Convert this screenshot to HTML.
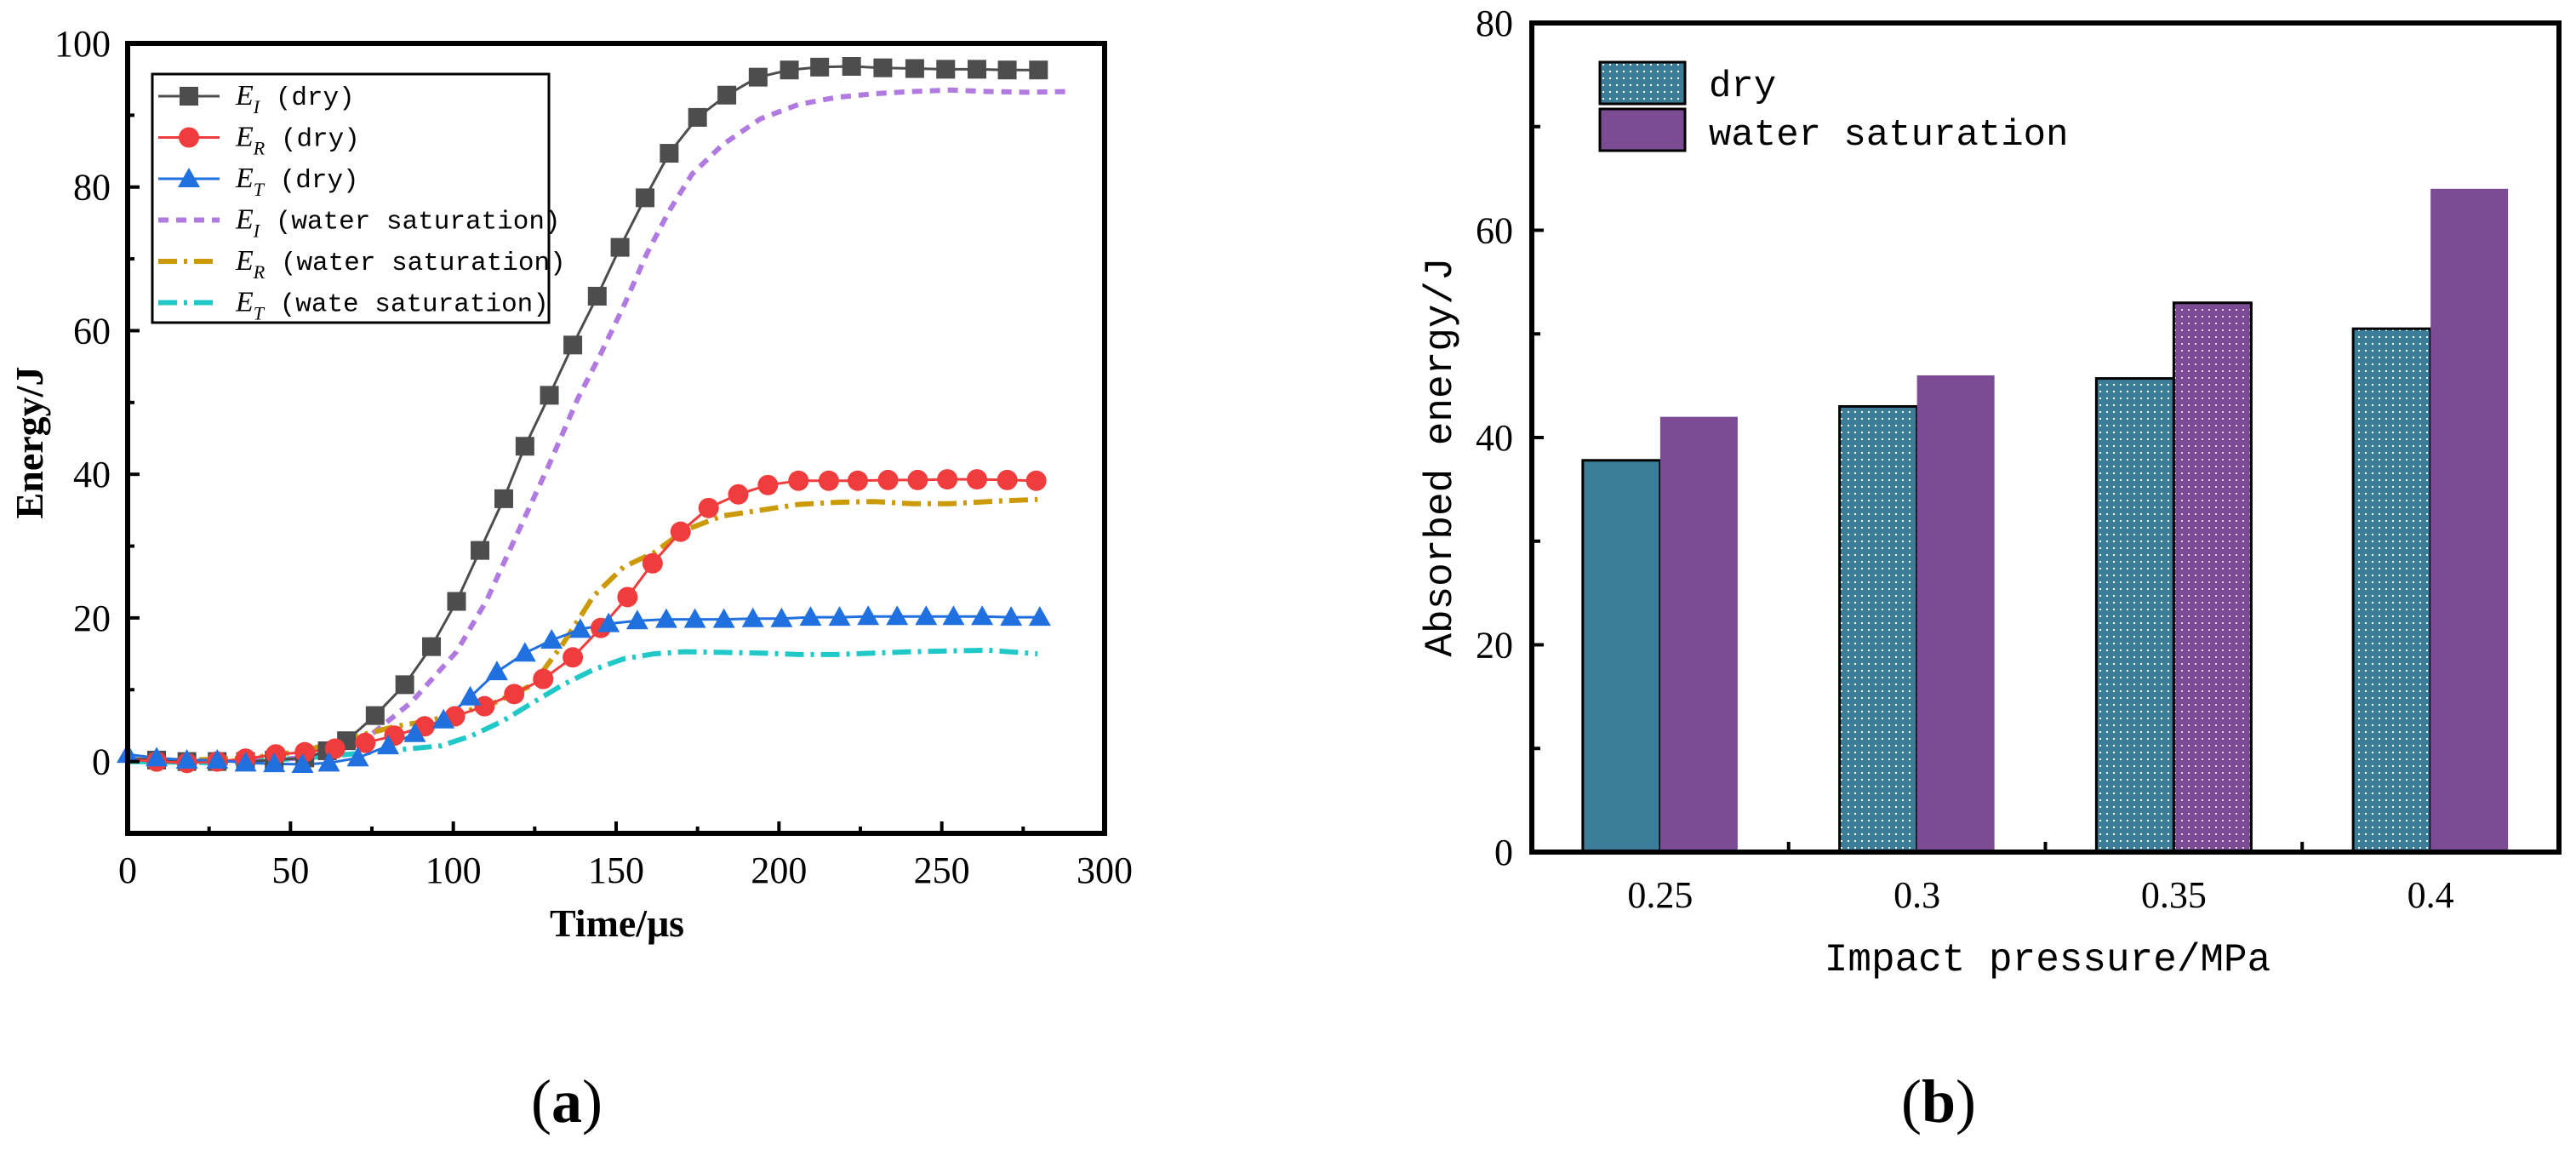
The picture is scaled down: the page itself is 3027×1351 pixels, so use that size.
<!DOCTYPE html>
<html><head><meta charset="utf-8"><style>
html,body{margin:0;padding:0;background:#fff;}
svg{display:block;}
text{font-family:"Liberation Serif",serif;}
</style></head><body>
<svg id="fig" width="3027" height="1351" viewBox="0 0 3027 1351" xmlns="http://www.w3.org/2000/svg">
<defs>
<pattern id="dotsT" width="8" height="8" patternUnits="userSpaceOnUse"><rect width="8" height="8" fill="#3b7d99"/><rect x="3" y="3" width="2" height="2" fill="#fff"/></pattern>
<pattern id="dotsP" width="8" height="8" patternUnits="userSpaceOnUse"><rect width="8" height="8" fill="#7b4c93"/><rect x="3" y="3" width="2" height="2" fill="#e8d8f0"/></pattern>
</defs>
<g id="left"></g>
<g id="right"></g>
<text x="666" y="1318" font-size="72" text-anchor="middle">(<tspan font-weight="bold">a</tspan>)</text>
<text x="2278" y="1318" font-size="72" text-anchor="middle">(<tspan font-weight="bold">b</tspan>)</text>
</svg>
<script>
// ---- left chart data ----
const eiDryT=[0,8.9,18.2,27.5,36.2,45,54.4,61.3,67.2,76,85.1,93.3,101,108.2,115.5,122,129.5,136.7,144.2,151.2,158.9,166.3,175,184,193.6,203.2,212.5,222.3,231.9,241.7,251.2,260.8,270.1,279.7];
const eiDryV=[0.5,0.2,0,0,0,0.2,0.5,1.5,2.9,6.4,10.7,16,22.3,29.4,36.6,43.9,51,58,64.8,71.6,78.5,84.7,89.7,92.8,95.3,96.3,96.7,96.8,96.6,96.5,96.4,96.4,96.3,96.3];
const erDryT=[0,8.9,18.2,27.5,36.2,45.5,54.4,63.7,73,81.9,91.2,100.5,109.6,118.7,127.6,136.7,145.3,153.5,161.2,169.8,178.4,187.5,196.6,206,215.3,224.2,233.5,242.6,251.7,260.8,270.1,279];
const erDryV=[0.3,0,-0.2,0,0.4,1.0,1.3,1.8,2.6,3.6,4.9,6.3,7.7,9.4,11.5,14.5,18.6,22.9,27.6,32,35.3,37.2,38.5,39.1,39.1,39.1,39.2,39.2,39.3,39.3,39.2,39.1];
const etDryT=[0,8.9,18.2,27.5,36.2,45,53.7,61.8,70.7,80,88.2,97,105.2,113.4,122,130.2,139,147.7,156.5,165.4,174.2,183.1,192,200.8,209.7,218.6,227.4,236.3,245.2,253.6,262.4,271.3,280.1];
const etDryV=[1.0,0.5,0.2,0.2,-0.2,-0.3,-0.4,-0.2,0.5,2.2,3.9,5.8,9.0,12.5,15.1,16.9,18.4,19.2,19.6,19.8,19.8,19.8,19.9,19.9,20.1,20.1,20.2,20.2,20.2,20.2,20.2,20.1,20.1];
const eiWetT=[0,31,54.4,73,87,101,110.3,119.6,129,138.3,145.3,152.3,159.3,166.3,173.3,182.7,194.3,206,217.7,229.3,241,252.6,264.3,276,288.8];
const eiWetV=[0,0,0.5,3.1,8.2,15.3,22.5,31.7,40.9,50.6,56.8,63.4,70.6,76.7,81.8,85.9,89.5,91.5,92.5,93,93.3,93.5,93.3,93.2,93.3];
const erWetT=[0,19.4,38,54.4,68.4,82.4,91.7,101,112.7,124.4,133.7,143,152.3,161.7,171,182.6,194.3,206,217.7,229.3,241,252.6,264.3,279.4];
const erWetV=[0,0.2,0.5,1.5,3.3,4.9,5.6,6.6,8.2,10.7,16.4,23,27.1,29.1,32.2,34.2,35,35.8,36.1,36.2,35.9,35.9,36.2,36.5];
const etWetT=[0,31,54.4,73,87,96.3,105.7,115,124.4,133.7,143,152.3,161.7,171,182.6,194.3,206,217.7,229.3,241,252.6,264.3,279.4];
const etWetV=[0,-0.2,0.5,1.2,1.8,2.2,3.6,5.6,8.2,10.7,12.8,14.3,15,15.3,15.2,15.1,14.9,14.9,15.1,15.3,15.4,15.5,15.0];
const xTicksL=[0,50,100,150,200,250,300];
const yTicksL=[0,20,40,60,80,100];
// ---- right chart data ----
const categories=["0.25","0.3","0.35","0.4"];
const dryVals=[37.8,43,45.7,50.5];
const wetVals=[42,46,53,64];
const yTicksR=[0,20,40,60,80];

const NS="http://www.w3.org/2000/svg";
const MONO='font-family:"Liberation Mono",monospace';
function mk(parent,tag,attrs){const e=document.createElementNS(NS,tag);for(const k in attrs)e.setAttribute(k,attrs[k]);parent.appendChild(e);return e;}

// left axes
const L={x0:150,x1:1298,y0:979,y1:51,xmin:0,xmax:300,ymin:-10,ymax:100};
const lx=v=>L.x0+(v-L.xmin)/(L.xmax-L.xmin)*(L.x1-L.x0);
const ly=v=>L.y0-(v-L.ymin)/(L.ymax-L.ymin)*(L.y0-L.y1);
const gL=document.getElementById('left');

function series(ts,vs,color,dash,width,name){
  const d=ts.map((t,i)=>(i?'L':'M')+lx(t).toFixed(1)+','+ly(vs[i]).toFixed(1)).join(' ');
  const p=mk(gL,'path',{d:d,fill:'none',stroke:color,'stroke-width':width,'stroke-dasharray':dash,'stroke-linejoin':'round'});
  
  
}
function markers(ts,vs,color,shape,name){
  ts.forEach((t,i)=>{
    const x=lx(t),y=ly(vs[i]);let m;
    if(shape==='sq')m=mk(gL,'rect',{x:x-11,y:y-11,width:22,height:22,fill:color});
    else if(shape==='ci')m=mk(gL,'circle',{cx:x,cy:y,r:12,fill:color});
    else m=mk(gL,'path',{d:`M${x},${y-13}L${x+13},${y+10}L${x-13},${y+10}Z`,fill:color});
    
    
  });
}
series(eiWetT,eiWetV,'#b07ae0','12 9',6,'ei-water-line');
series(erWetT,erWetV,'#cc9a06','22 8 4 8',6,'er-water-line');
series(etWetT,etWetV,'#20c8c8','22 8 4 8',6,'et-water-line');
series(eiDryT,eiDryV,'#4d4d4d','',3,'ei-dry-line');
series(erDryT,erDryV,'#f03c3c','',3,'er-dry-line');
series(etDryT,etDryV,'#2070e0','',3,'et-dry-line');
markers(eiDryT.slice(1),eiDryV.slice(1),'#4d4d4d','sq','ei-dry-marker');
markers(erDryT.slice(1),erDryV.slice(1),'#f03c3c','ci','er-dry-marker');
markers(etDryT,etDryV,'#2070e0','tr','et-dry-marker');

// left frame & ticks
let f=mk(gL,'rect',{x:L.x0,y:L.y1,width:L.x1-L.x0,height:L.y0-L.y1,fill:'none',stroke:'#000','stroke-width':6});


for(let v=0;v<=300;v+=25){const x=lx(v);mk(gL,'line',{x1:x,y1:L.y0,x2:x,y2:L.y0-(v%50?8:14),stroke:'#000','stroke-width':4});}
for(let v=-10;v<=100;v+=10){const y=ly(v);mk(gL,'line',{x1:L.x0,y1:y,x2:L.x0+(v%20?8:14),y2:y,stroke:'#000','stroke-width':4});}
xTicksL.forEach(v=>{const t=mk(gL,'text',{x:lx(v),y:1037,'font-size':44,'text-anchor':'middle'});t.textContent=v;

});
yTicksL.forEach(v=>{const t=mk(gL,'text',{x:130,y:ly(v)+15,'font-size':44,'text-anchor':'end'});t.textContent=v;

});
let tt=mk(gL,'text',{x:725,y:1100,'font-size':46,'font-weight':'bold','text-anchor':'middle'});tt.textContent='Time/μs';


tt=mk(gL,'text',{x:0,y:0,'font-size':46,'font-weight':'bold','text-anchor':'middle',transform:'translate(50,520) rotate(-90)'});tt.textContent='Energy/J';



// left legend
const lg=mk(gL,'g',{});


mk(lg,'rect',{x:179,y:87,width:466,height:292,fill:'#fff',stroke:'#000','stroke-width':3});
const legItems=[['I','(dry)','#4d4d4d','',3,'sq'],['R','(dry)','#f03c3c','',3,'ci'],['T','(dry)','#2070e0','',3,'tr'],['I','(water saturation)','#b07ae0','12 9',6,''],['R','(water saturation)','#cc9a06','22 8 4 8',6,''],['T','(wate saturation)','#20c8c8','22 8 4 8',6,'']];
legItems.forEach((it,i)=>{
  const y=113+i*48.5;
  const g=mk(lg,'g',{});
  
  
  mk(g,'line',{x1:186,y1:y,x2:258,y2:y,stroke:it[2],'stroke-width':it[4],'stroke-dasharray':it[3]});
  if(it[5]==='sq')mk(g,'rect',{x:211,y:y-11,width:22,height:22,fill:it[2]});
  if(it[5]==='ci')mk(g,'circle',{cx:222,cy:y,r:12,fill:it[2]});
  if(it[5]==='tr')mk(g,'path',{d:`M222,${y-13}L235,${y+10}L209,${y+10}Z`,fill:it[2]});
  const t=mk(g,'text',{x:277,y:y+10,'font-size':34});
  t.innerHTML=`<tspan font-style="italic">E</tspan><tspan font-style="italic" font-size="22" dy="10">${it[0]}</tspan><tspan dy="-10" style='${MONO}' font-size="31"> ${it[1]}</tspan>`;
});

// right chart
const R={x0:1800,x1:3007,y0:1001,y1:27,ymax:80};
const ry=v=>R.y0-v/R.ymax*(R.y0-R.y1);
const band=(R.x1-R.x0)/categories.length;
const cx=i=>R.x0+band*(i+0.5);
const bw=91;
const gR=document.getElementById('right');
categories.forEach((c,i)=>{
  const b1=mk(gR,'rect',{x:cx(i)-bw,y:ry(dryVals[i]),width:bw,height:R.y0-ry(dryVals[i]),fill:i===0?'#3b7d99':'url(#dotsT)',stroke:'#000','stroke-width':3});
  
  
  const b2=mk(gR,'rect',{x:cx(i),y:ry(wetVals[i]),width:bw,height:R.y0-ry(wetVals[i]),fill:i===2?'url(#dotsP)':'#7b4c93',stroke:i===2?'#000':'none','stroke-width':3});
  
  
  const t=mk(gR,'text',{x:cx(i),y:1066,'font-size':44,'text-anchor':'middle'});t.textContent=c;
  
  
});
f=mk(gR,'rect',{x:R.x0,y:R.y1,width:R.x1-R.x0,height:R.y0-R.y1,fill:'none',stroke:'#000','stroke-width':6});


for(let v=0;v<=80;v+=10){const y=ry(v);mk(gR,'line',{x1:R.x0,y1:y,x2:R.x0+(v%20?10:14),y2:y,stroke:'#000','stroke-width':4});}
for(let i=1;i<categories.length;i++){const x=R.x0+band*i;mk(gR,'line',{x1:x,y1:R.y0,x2:x,y2:R.y0-12,stroke:'#000','stroke-width':4});}
yTicksR.forEach(v=>{const t=mk(gR,'text',{x:1778,y:ry(v)+15,'font-size':44,'text-anchor':'end'});t.textContent=v;

});
tt=mk(gR,'text',{x:2406,y:1140,'font-size':46,'text-anchor':'middle',style:MONO});tt.textContent='Impact pressure/MPa';


tt=mk(gR,'text',{x:0,y:0,'font-size':46,'text-anchor':'middle',style:MONO,transform:'translate(1705,537) rotate(-90)'});tt.textContent='Absorbed energy/J';


const lr=mk(gR,'g',{});


let s=mk(lr,'rect',{x:1880,y:73,width:100,height:49,fill:'url(#dotsT)',stroke:'#000','stroke-width':3});


s=mk(lr,'rect',{x:1880,y:128,width:100,height:49,fill:'#7b4c93',stroke:'#000','stroke-width':3});


let lt=mk(lr,'text',{x:2008,y:113,'font-size':44,style:MONO});lt.textContent='dry';


lt=mk(lr,'text',{x:2008,y:170,'font-size':44,style:MONO});lt.textContent='water saturation';


</script>
</body></html>
